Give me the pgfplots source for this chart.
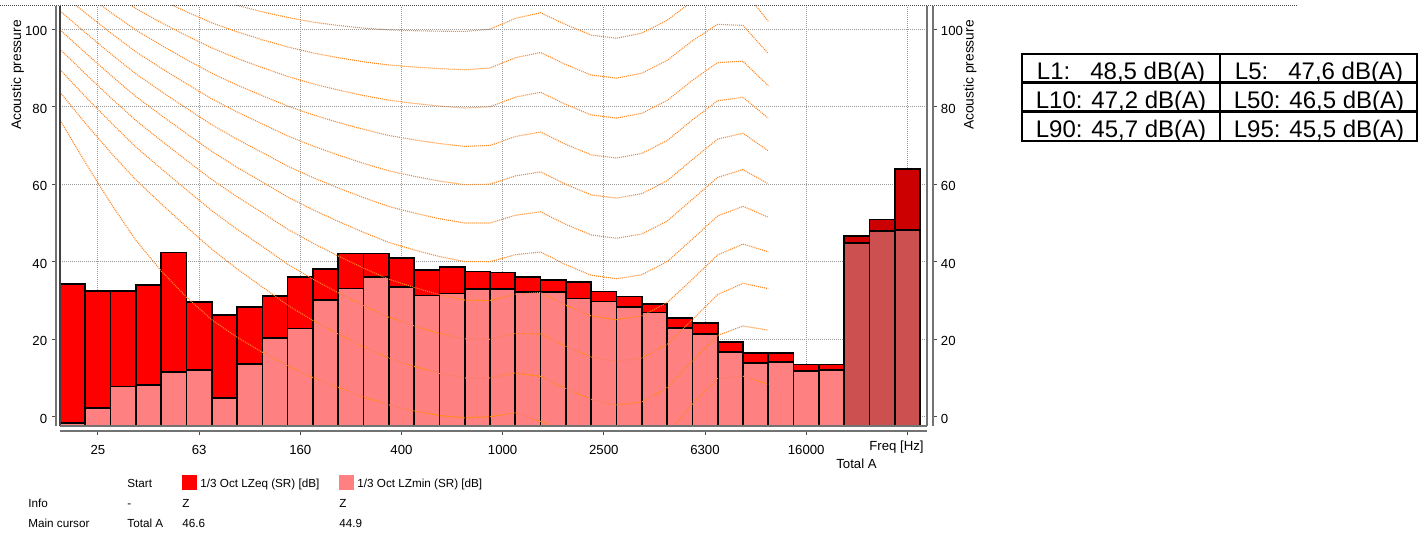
\documentclass[border=0pt]{standalone}
\usepackage{fontspec}
\setmainfont{Liberation Sans}
\usepackage{pgfplots}
\pgfplotsset{compat=1.18}
\definecolor{zeq}{RGB}{255,0,0}
\definecolor{zmin}{RGB}{255,128,128}
\definecolor{zeqd}{RGB}{204,0,0}
\definecolor{zmind}{RGB}{204,80,80}
\definecolor{cont}{RGB}{255,135,35}
\newcommand\tickfont{\fontsize{6.6pt}{8pt}\selectfont}
\newcommand\legfont{\fontsize{5.85pt}{7pt}\selectfont}
\begin{document}
\begin{tikzpicture}
\path[use as bounding box] (0,0) rectangle (709pt,-267.5pt);
\begin{axis}[name=main, at={(30pt,-213pt)}, anchor=south west, scale only axis,
  width=433.5pt, height=210pt,
  xmin=-0.5, xmax=33.777, ymin=-2.4, ymax=106,
  y coord trafo/.code={\pgfmathparse{#1+2.4}},
  y coord inv trafo/.code={\pgfmathparse{#1-2.4}},
  axis x line*=bottom, axis y line*=left,
  axis x line shift=2.5pt, axis y line shift=2pt,
  axis line style={black!55, line width=0.75pt},
  tick align=outside, major tick length=1.75pt,
  tick style={black!70, line width=0.5pt},
  xtick={1,5,...,33}, xticklabels={25,63,160,400,1000,2500,6300,16000,{}},
  ytick={0,20,...,100}, yticklabels={0,20,40,60,80,100},
  xticklabel style={font=\tickfont, anchor=base, inner sep=0pt, yshift=-9.85pt},
  yticklabel style={font=\tickfont, anchor=east, inner sep=0pt, xshift=-2.5pt, yshift=-1pt},
  grid=major, major grid style={black!40, line width=0.5pt, dash pattern=on 0.5pt off 0.5pt},
  contour/.style={cont, line width=0.55pt, dash pattern=on 0.5pt off 0.5pt},
  bars/.style={ybar, bar width=1, bar shift=0pt, draw=black, line width=0.85pt},
]
% LZeq
\addplot[bars, fill=zeq] coordinates {(0,34.3) (1,32.4) (2,32.4) (3,34.0) (4,42.4) (5,29.6) (6,26.2) (7,28.3) (8,31.2) (9,36.1) (10,38.1) (11,42.1) (12,42.1) (13,41.0) (14,37.8) (15,38.6) (16,37.5) (17,37.2) (18,36.1) (19,35.3) (20,34.8) (21,32.3) (22,31.0) (23,29.1) (24,25.5) (25,24.2) (26,19.3) (27,16.5) (28,16.5) (29,13.5) (30,13.5)};
\addplot[bars, fill=zeqd] coordinates {(31,46.6) (32,50.9) (33,63.9)};
% LZmin
\addplot[bars, fill=zmin] coordinates {(0,-1.6) (1,2.2) (2,7.8) (3,8.2) (4,11.6) (5,12.0) (6,4.9) (7,13.6) (8,20.4) (9,22.8) (10,30.2) (11,33.1) (12,36.0) (13,33.5) (14,31.3) (15,31.8) (16,33.0) (17,33.0) (18,32.1) (19,32.1) (20,30.5) (21,29.7) (22,28.4) (23,26.9) (24,22.9) (25,21.3) (26,16.7) (27,13.9) (28,14.1) (29,11.8) (30,12.1)};
\addplot[bars, fill=zmind] coordinates {(31,44.9) (32,48.0) (33,48.2)};
% equal loudness contours 0..100 phon
\addplot[contour] coordinates {(-0.5,76.55) (0.5,65.62) (1.5,55.12) (2.5,45.54) (3.5,37.63) (4.5,30.87) (5.5,25.03) (6.5,20.51) (7.5,16.64) (8.5,13.12) (9.5,10.09) (10.5,7.55) (11.5,5.12) (12.5,3.06) (13.5,1.49) (14.5,0.30) (15.5,-0.30) (16.5,0.00) (17.5,1.03) (18.5,-1.19) (19.5,-4.11) (20.5,-7.05) (21.5,-9.02) (22.5,-8.49) (23.5,-4.48) (24.5,3.28) (25.5,9.83) (26.5,10.48) (27.5,8.38)};
\addplot[contour] coordinates {(-0.5,83.75) (0.5,75.76) (1.5,68.21) (2.5,61.14) (3.5,54.96) (4.5,49.01) (5.5,43.24) (6.5,38.13) (7.5,33.48) (8.5,28.77) (9.5,24.84) (10.5,21.33) (11.5,18.05) (12.5,15.14) (13.5,12.98) (14.5,11.18) (15.5,9.99) (16.5,10.00) (17.5,11.26) (18.5,10.43) (19.5,7.27) (20.5,4.45) (21.5,3.04) (22.5,3.80) (23.5,7.46) (24.5,14.35) (25.5,20.98) (26.5,23.43) (27.5,22.33)};
\addplot[contour] coordinates {(-0.5,89.58) (0.5,82.65) (1.5,75.98) (2.5,69.62) (3.5,64.02) (4.5,58.55) (5.5,53.19) (6.5,48.38) (7.5,43.94) (8.5,39.37) (9.5,35.51) (10.5,31.99) (11.5,28.69) (12.5,25.67) (13.5,23.43) (14.5,21.48) (15.5,20.10) (16.5,20.00) (17.5,21.46) (18.5,21.40) (19.5,18.15) (20.5,15.38) (21.5,14.26) (22.5,15.14) (23.5,18.63) (24.5,25.02) (25.5,31.52) (26.5,34.43) (27.5,33.05)};
\addplot[contour] coordinates {(-0.5,94.85) (0.5,88.52) (1.5,82.36) (2.5,76.45) (3.5,71.26) (4.5,66.20) (5.5,61.22) (6.5,56.76) (7.5,52.64) (8.5,48.38) (9.5,44.78) (10.5,41.47) (11.5,38.36) (12.5,35.50) (13.5,33.37) (14.5,31.49) (15.5,30.11) (16.5,30.00) (17.5,31.64) (18.5,32.04) (19.5,28.76) (20.5,26.03) (21.5,25.05) (22.5,26.02) (23.5,29.42) (24.5,35.48) (25.5,41.75) (26.5,44.57) (27.5,42.55)};
\addplot[contour] coordinates {(-0.5,99.85) (0.5,93.94) (1.5,88.17) (2.5,82.63) (3.5,77.79) (4.5,73.08) (5.5,68.48) (6.5,64.37) (7.5,60.59) (8.5,56.70) (9.5,53.41) (10.5,50.40) (11.5,47.58) (12.5,44.98) (13.5,43.05) (14.5,41.34) (15.5,40.06) (16.5,40.00) (17.5,41.82) (18.5,42.51) (19.5,39.23) (20.5,36.51) (21.5,35.61) (22.5,36.65) (23.5,40.01) (24.5,45.83) (25.5,51.80) (26.5,54.29) (27.5,51.49)};
\addplot[contour] coordinates {(-0.5,104.72) (0.5,99.14) (1.5,93.69) (2.5,88.49) (3.5,83.96) (4.5,79.61) (5.5,75.36) (6.5,71.61) (7.5,68.17) (8.5,64.68) (9.5,61.72) (10.5,59.04) (11.5,56.55) (12.5,54.26) (13.5,52.59) (14.5,51.10) (15.5,49.98) (16.5,50.00) (17.5,51.99) (18.5,52.88) (19.5,49.62) (20.5,46.91) (21.5,46.05) (22.5,47.15) (23.5,50.48) (24.5,56.11) (25.5,61.76) (26.5,63.78) (27.5,60.14)};
\addplot[contour] coordinates {(-0.5,109.51) (0.5,104.23) (1.5,99.08) (2.5,94.18) (3.5,89.96) (4.5,85.94) (5.5,82.05) (6.5,78.65) (7.5,75.56) (8.5,72.47) (9.5,69.86) (10.5,67.54) (11.5,65.39) (12.5,63.45) (13.5,62.05) (14.5,60.82) (15.5,59.89) (16.5,60.00) (17.5,62.15) (18.5,63.19) (19.5,59.96) (20.5,57.26) (21.5,56.42) (22.5,57.57) (23.5,60.89) (24.5,66.36) (25.5,71.66) (26.5,73.15) (27.5,68.63)};
\addplot[contour] coordinates {(-0.5,114.26) (0.5,109.25) (1.5,104.38) (2.5,99.78) (3.5,95.87) (4.5,92.18) (5.5,88.64) (6.5,85.60) (7.5,82.85) (8.5,80.17) (9.5,77.92) (10.5,75.94) (11.5,74.16) (12.5,72.58) (13.5,71.47) (14.5,70.50) (15.5,69.78) (16.5,70.00) (17.5,72.32) (18.5,73.47) (19.5,70.28) (20.5,67.58) (21.5,66.76) (22.5,67.95) (23.5,71.26) (24.5,76.59) (25.5,81.54) (26.5,82.46) (27.5,77.04)};
\addplot[contour] coordinates {(-0.5,118.99) (0.5,114.23) (1.5,109.65) (2.5,105.34) (3.5,101.72) (4.5,98.36) (5.5,95.17) (6.5,92.48) (7.5,90.09) (8.5,87.82) (9.5,85.92) (10.5,84.31) (11.5,82.89) (12.5,81.68) (13.5,80.86) (14.5,80.17) (15.5,79.67) (16.5,80.00) (17.5,82.48) (18.5,83.74) (19.5,80.59) (20.5,77.89) (21.5,77.08) (22.5,78.31) (23.5,81.62) (24.5,86.81) (25.5,91.41) (26.5,91.74) (27.5,85.41)};
\addplot[contour] coordinates {(-0.5,123.7) (0.5,119.2) (1.5,114.9) (2.5,110.87) (3.5,107.55) (4.5,104.51) (5.5,101.67) (6.5,99.33) (7.5,97.29) (8.5,95.43) (9.5,93.89) (10.5,92.65) (11.5,91.60) (12.5,90.76) (13.5,90.24) (14.5,89.84) (15.5,89.55) (16.5,90.00) (17.5,92.65) (18.5,94.00) (19.5,90.88) (20.5,88.18) (21.5,87.38) (22.5,88.66) (23.5,91.96) (24.5,97.02) (25.5,101.26) (26.5,100.99) (27.5,93.75)};
\addplot[contour] coordinates {(-0.5,128.4) (0.5,124.15) (1.5,120.1) (2.5,116.4) (3.5,113.35) (4.5,110.65) (5.5,108.16) (6.5,106.17) (7.5,104.48) (8.5,103.03) (9.5,101.85) (10.5,100.97) (11.5,100.30) (12.5,99.83) (13.5,99.62) (14.5,99.50) (15.5,99.44) (16.5,100.00) (17.5,102.81) (18.5,104.25) (19.5,101.18) (20.5,98.48) (21.5,97.67) (22.5,99.00) (23.5,102.30) (24.5,107.23) (25.5,111.11) (26.5,110.23) (27.5,102.07)};
\end{axis}
\begin{axis}[name=rax, at={(30pt,-213pt)}, anchor=south west, scale only axis,
  width=433.5pt, height=210pt,
  xmin=-0.5, xmax=33.777, ymin=-2.4, ymax=106,
  axis x line=none, axis y line*=right, axis y line shift=3pt,
  axis line style={black!55, line width=0.75pt},
  tick align=outside, major tick length=1.75pt,
  tick style={black!70, line width=0.5pt},
  xtick=\empty, ytick={0,20,...,100}, yticklabels={0,20,40,60,80,100},
  yticklabel style={font=\tickfont, anchor=west, inner sep=0pt, xshift=2pt, yshift=-1pt},
]
\addplot[draw=none] coordinates {(0,0)};
\end{axis}
\draw[black!75, line width=0.6pt] (main.south west) -- (main.north west);
\draw[black!55, line width=0.6pt] (main.south east) -- (main.north east);
\draw[black!55, line width=0.6pt] (main.south west) -- (main.south east);
\draw[black!70, line width=0.5pt, dash pattern=on 0.5pt off 0.5pt] (0,-3pt) -- (649pt,-3pt);
\begin{scope}[x=0.5pt, y=-0.5pt]
\node[rotate=90, font=\fontsize{6.9pt}{8pt}\selectfont] at (17.5,75) {Acoustic pressure};
\node[rotate=90, font=\fontsize{6.9pt}{8pt}\selectfont] at (970,75) {Acoustic pressure};
\node[font=\tickfont, anchor=base east, inner sep=0pt] at (924,450.7) {Freq [Hz]};
\node[font=\tickfont, anchor=base, inner sep=0pt] at (856.5,468) {Total A};
% legend
\fill[zeq] (182,475) rectangle (197,490);
\fill[zmin] (339,475) rectangle (354,490);
\begin{scope}[every node/.style={font=\legfont, anchor=base west, inner sep=0pt}]
\node at (127,487) {Start};
\node at (200,487) {1/3 Oct LZeq (SR) [dB]};
\node at (357,487) {1/3 Oct LZmin (SR) [dB]};
\node at (28,507) {Info};
\node at (127,507) {-};
\node at (182,507) {Z};
\node at (339,507) {Z};
\node at (28,527) {Main cursor};
\node at (127,527) {Total A};
\node at (182,527) {46.6};
\node at (339,527) {44.9};
\end{scope}
% statistics table
\draw[line width=1.2pt] (1022,54) rectangle (1417,141);
\draw[line width=1.2pt] (1022,82.7) -- (1417,82.7);
\draw[line width=1.2pt] (1022,111.7) -- (1417,111.7);
\draw[line width=1.2pt] (1220,54) -- (1220,141);
\begin{scope}[every node/.style={font=\fontsize{12pt}{14pt}\selectfont, anchor=base, inner sep=0pt}]
\node at (1121,80) {L1:\hphantom{0} 48,5 dB(A)};
\node at (1319,80) {L5:\hphantom{0} 47,6 dB(A)};
\node at (1121,108.7) {L10: 47,2 dB(A)};
\node at (1319,108.7) {L50: 46,5 dB(A)};
\node at (1121,137.2) {L90: 45,7 dB(A)};
\node at (1319,137.2) {L95: 45,5 dB(A)};
\end{scope}
\end{scope}
\end{tikzpicture}
\end{document}
